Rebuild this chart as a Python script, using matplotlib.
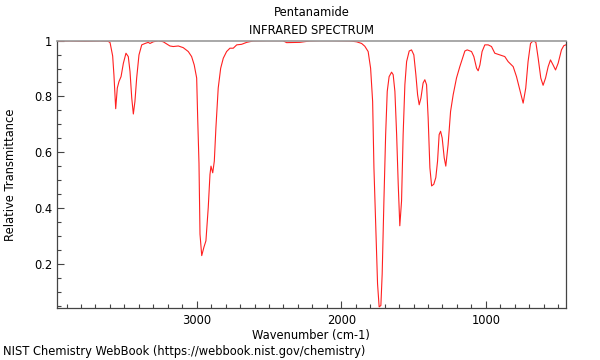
import matplotlib
matplotlib.use("Agg")
import matplotlib.pyplot as plt
from matplotlib.ticker import MultipleLocator, FuncFormatter

wavenumber = [3966, 3876, 3772, 3668, 3613, 3599, 3581, 3572, 3560, 3549, 3537, 3523,
              3507, 3489, 3473, 3461, 3449, 3438, 3427, 3415, 3399, 3380, 3357, 3335,
              3323, 3300, 3265, 3231, 3207, 3185, 3162, 3127, 3093, 3058, 3035, 3017,
              3000, 2993, 2984, 2977, 2965, 2950, 2936, 2920, 2908, 2901, 2889, 2878,
              2867, 2851, 2834, 2816, 2793, 2770, 2747, 2723, 2689, 2654, 2609, 2516,
              2403, 2378, 2286, 2217, 2148, 2058, 1940, 1894, 1859, 1837, 1814, 1797,
              1783, 1774, 1760, 1749, 1738, 1726, 1717, 1705, 1693, 1682, 1669, 1652,
              1641, 1629, 1617, 1606, 1595, 1583, 1572, 1560, 1548, 1530, 1514, 1498,
              1484, 1472, 1461, 1449, 1434, 1422, 1410, 1399, 1387, 1375, 1360, 1346,
              1334, 1323, 1313, 1302, 1288, 1277, 1261, 1244, 1226, 1203, 1180, 1157,
              1145, 1129, 1099, 1083, 1064, 1053, 1041, 1026, 1007, 984, 961, 938,
              903, 869, 846, 811, 788, 765, 742, 724, 708, 691, 673, 654, 638, 620,
              604, 587, 569, 553, 535, 518, 500, 477, 461, 447]

transmittance = [0.998, 0.999, 0.998, 0.999, 0.998, 0.993, 0.945, 0.875, 0.756, 0.830, 0.854, 0.871,
                 0.919, 0.955, 0.943, 0.889, 0.794, 0.737, 0.782, 0.866, 0.949, 0.985, 0.990, 0.994,
                 0.990, 0.996, 1.000, 0.996, 0.988, 0.981, 0.979, 0.981, 0.975, 0.961, 0.943, 0.913,
                 0.866, 0.723, 0.560, 0.306, 0.229, 0.259, 0.282, 0.401, 0.520, 0.550, 0.526, 0.568,
                 0.687, 0.830, 0.901, 0.937, 0.961, 0.973, 0.973, 0.985, 0.987, 0.994, 0.999, 1.000,
                 1.000, 0.993, 0.994, 0.999, 1.000, 1.000, 0.999, 0.996, 0.990, 0.980, 0.961, 0.901,
                 0.782, 0.544, 0.306, 0.128, 0.045, 0.050, 0.163, 0.425, 0.663, 0.818, 0.871, 0.887,
                 0.878, 0.818, 0.663, 0.485, 0.336, 0.425, 0.663, 0.842, 0.925, 0.963, 0.967, 0.949,
                 0.878, 0.806, 0.770, 0.794, 0.848, 0.860, 0.842, 0.723, 0.544, 0.479, 0.485, 0.509,
                 0.568, 0.663, 0.675, 0.651, 0.580, 0.550, 0.627, 0.746, 0.806, 0.866, 0.907, 0.943,
                 0.963, 0.967, 0.961, 0.943, 0.901, 0.892, 0.913, 0.961, 0.985, 0.985, 0.979, 0.955,
                 0.949, 0.943, 0.925, 0.907, 0.871, 0.824, 0.776, 0.830, 0.925, 0.990, 1.000, 0.994,
                 0.937, 0.866, 0.840, 0.866, 0.907, 0.931, 0.913, 0.895, 0.919, 0.967, 0.982, 0.985]

title_lines = ["Pentanamide", "INFRARED SPECTRUM"]
x_label = "Wavenumber (cm-1)"
y_label = "Relative Transmittance"
footer = "NIST Chemistry WebBook (https://webbook.nist.gov/chemistry)"
x_major = [3000, 2000, 1000]
y_major = [0.2, 0.4, 0.6, 0.8, 1.0]

FS = 8.3
plt.rcParams['font.family'] = ['DejaVu Sans']
fig = plt.figure(figsize=(6, 3.6), dpi=100)
ax = fig.add_axes([0.095, 0.1444, 0.848, 0.7426])

ax.plot(wavenumber, transmittance, color='#ff2020', linewidth=0.8)
ax.set_xlim(3966, 447)
ax.set_ylim(0.041, 1.0)

ax.set_xticks(x_major)
ax.xaxis.set_minor_locator(MultipleLocator(100))
ax.set_yticks(y_major)
ax.yaxis.set_minor_locator(MultipleLocator(0.05))
ax.yaxis.set_major_formatter(FuncFormatter(lambda v, p: ('%g' % round(v, 2))))

ax.tick_params(axis='both', which='both', direction='in', colors='#444444',
               labelcolor='black', labelsize=FS)
ax.tick_params(which='major', length=5, width=0.8)
ax.tick_params(which='minor', length=3, width=0.8)
ax.tick_params(axis='x', pad=4)

for side in ['left', 'bottom', 'right']:
    ax.spines[side].set_color('#444444')
    ax.spines[side].set_linewidth(0.9)
ax.spines['top'].set_color('#999999')
ax.spines['top'].set_linewidth(1.2)

ax.set_xlabel(x_label, fontsize=FS, labelpad=2)
ax.set_ylabel(y_label, fontsize=FS, labelpad=12)

cx = (57 + 566) / 2 / 600
fig.text(cx, 1 - 12 / 360, title_lines[0], ha='center', va='center', fontsize=FS)
fig.text(cx, 1 - 30 / 360, title_lines[1], ha='center', va='center', fontsize=FS)
fig.text(3 / 600, 1 - 352 / 360, footer, ha='left', va='center', fontsize=FS)

fig.savefig('out.png', dpi=100)
